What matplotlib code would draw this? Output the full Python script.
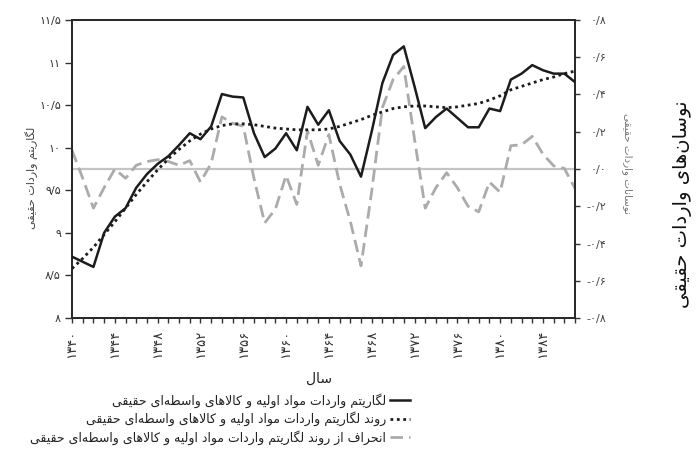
import matplotlib
matplotlib.use("Agg")
import matplotlib.pyplot as plt
from matplotlib.ticker import FixedLocator, MultipleLocator

plt.rcParams['font.family'] = ['DejaVu Sans']

# ---------------- data ----------------
years = list(range(1340, 1388))
log_imports = [8.72, 8.66, 8.60, 9.00, 9.19, 9.29, 9.53, 9.69, 9.81, 9.90,
               10.03, 10.17, 10.10, 10.25, 10.63, 10.60, 10.59, 10.17, 9.89, 9.99,
               10.17, 9.97, 10.48, 10.27, 10.44, 10.08, 9.92, 9.66, 10.19, 10.76,
               11.09, 11.19, 10.72, 10.23, 10.36, 10.46, 10.35, 10.24, 10.24, 10.46,
               10.43, 10.80, 10.87, 10.97, 10.91, 10.87, 10.87, 10.77]
trend = [8.58, 8.70, 8.83, 8.98, 9.13, 9.29, 9.45, 9.60, 9.74, 9.87,
         9.98, 10.08, 10.16, 10.22, 10.26, 10.28, 10.28, 10.27, 10.25, 10.23,
         10.22, 10.21, 10.21, 10.21, 10.22, 10.25, 10.29, 10.33, 10.38, 10.42,
         10.46, 10.48, 10.49, 10.49, 10.48, 10.47, 10.48, 10.50, 10.52, 10.56,
         10.61, 10.68, 10.72, 10.76, 10.80, 10.83, 10.87, 10.90]
deviation = [0.10, -0.05, -0.21, -0.10, 0.00, -0.05, 0.02, 0.04, 0.05, 0.04,
             0.02, 0.045, -0.07, 0.03, 0.28, 0.245, 0.23, -0.05, -0.29, -0.215,
             -0.035, -0.19, 0.205, 0.02, 0.185, -0.08, -0.28, -0.52, -0.12, 0.33,
             0.48, 0.55, 0.16, -0.21, -0.10, -0.02, -0.10, -0.20, -0.23, -0.07,
             -0.125, 0.125, 0.13, 0.175, 0.08, 0.017, 0.003, -0.105]

x_ticks = [1340, 1344, 1348, 1352, 1356, 1360, 1364, 1368, 1372, 1376, 1380, 1384]
x_tick_labels = ['۱۳۴۰', '۱۳۴۴', '۱۳۴۸', '۱۳۵۲', '۱۳۵۶', '۱۳۶۰',
                 '۱۳۶۴', '۱۳۶۸', '۱۳۷۲', '۱۳۷۶', '۱۳۸۰', '۱۳۸۴']
left_ticks = [8.0, 8.5, 9.0, 9.5, 10.0, 10.5, 11.0, 11.5]
left_tick_labels = ['۸', '۸/۵', '۹', '۹/۵', '۱۰', '۱۰/۵', '۱۱', '۱۱/۵']
right_ticks = [-0.8, -0.6, -0.4, -0.2, 0.0, 0.2, 0.4, 0.6, 0.8]
right_tick_labels = ['-۰/۸', '-۰/۶', '-۰/۴', '-۰/۲', '۰/۰', '۰/۲', '۰/۴', '۰/۶', '۰/۸']

label_log = 'لگاریتم واردات مواد اولیه و کالاهای واسطه‌ای حقیقی'
label_trend = 'روند لگاریتم واردات مواد اولیه و کالاهای واسطه‌ای حقیقی'
label_dev = 'انحراف از روند لگاریتم واردات مواد اولیه و کالاهای واسطه‌ای حقیقی'
x_title = 'سال'
left_title = 'لگاریتم واردات حقیقی'
right_title = 'نوسانات واردات حقیقی'
side_title = 'نوسان‌های واردات حقیقی'

# ------------- Persian shaping (matplotlib has no complex text layout) -------------
FORMS = {
    '\u0627': ('\uFE8D', '\uFE8E', None, None),
    '\u0622': ('\uFE81', '\uFE82', None, None),
    '\u0628': ('\uFE8F', '\uFE90', '\uFE91', '\uFE92'),
    '\u067E': ('\uFB56', '\uFB57', '\uFB58', '\uFB59'),
    '\u062A': ('\uFE95', '\uFE96', '\uFE97', '\uFE98'),
    '\u062B': ('\uFE99', '\uFE9A', '\uFE9B', '\uFE9C'),
    '\u062C': ('\uFE9D', '\uFE9E', '\uFE9F', '\uFEA0'),
    '\u0686': ('\uFB7A', '\uFB7B', '\uFB7C', '\uFB7D'),
    '\u062D': ('\uFEA1', '\uFEA2', '\uFEA3', '\uFEA4'),
    '\u062E': ('\uFEA5', '\uFEA6', '\uFEA7', '\uFEA8'),
    '\u062F': ('\uFEA9', '\uFEAA', None, None),
    '\u0630': ('\uFEAB', '\uFEAC', None, None),
    '\u0631': ('\uFEAD', '\uFEAE', None, None),
    '\u0632': ('\uFEAF', '\uFEB0', None, None),
    '\u0698': ('\uFB8A', '\uFB8B', None, None),
    '\u0633': ('\uFEB1', '\uFEB2', '\uFEB3', '\uFEB4'),
    '\u0634': ('\uFEB5', '\uFEB6', '\uFEB7', '\uFEB8'),
    '\u0635': ('\uFEB9', '\uFEBA', '\uFEBB', '\uFEBC'),
    '\u0636': ('\uFEBD', '\uFEBE', '\uFEBF', '\uFEC0'),
    '\u0637': ('\uFEC1', '\uFEC2', '\uFEC3', '\uFEC4'),
    '\u0638': ('\uFEC5', '\uFEC6', '\uFEC7', '\uFEC8'),
    '\u0639': ('\uFEC9', '\uFECA', '\uFECB', '\uFECC'),
    '\u063A': ('\uFECD', '\uFECE', '\uFECF', '\uFED0'),
    '\u0641': ('\uFED1', '\uFED2', '\uFED3', '\uFED4'),
    '\u0642': ('\uFED5', '\uFED6', '\uFED7', '\uFED8'),
    '\u06A9': ('\uFB8E', '\uFB8F', '\uFB90', '\uFB91'),
    '\u06AF': ('\uFB92', '\uFB93', '\uFB94', '\uFB95'),
    '\u0644': ('\uFEDD', '\uFEDE', '\uFEDF', '\uFEE0'),
    '\u0645': ('\uFEE1', '\uFEE2', '\uFEE3', '\uFEE4'),
    '\u0646': ('\uFEE5', '\uFEE6', '\uFEE7', '\uFEE8'),
    '\u0647': ('\uFEE9', '\uFEEA', '\uFEEB', '\uFEEC'),
    '\u0648': ('\uFEED', '\uFEEE', None, None),
    '\u06CC': ('\uFBFC', '\uFBFD', '\uFBFE', '\uFBFF'),
    '\u0626': ('\uFE89', '\uFE8A', '\uFE8B', '\uFE8C'),
}
LAM_ALEF = {'\u0627': ('\uFEFB', '\uFEFC'), '\u0622': ('\uFEF5', '\uFEF6')}


def fa(text):
    chars = list(text)
    n = len(chars)
    out = []

    def dual(c):
        return c in FORMS and FORMS[c][2] is not None

    i = 0
    while i < n:
        c = chars[i]
        if c not in FORMS:
            if c != '\u200c':
                out.append(c)
            i += 1
            continue
        jp = i > 0 and dual(chars[i - 1])
        if c == '\u0644' and i + 1 < n and chars[i + 1] in LAM_ALEF:
            iso, fin = LAM_ALEF[chars[i + 1]]
            out.append(fin if jp else iso)
            i += 2
            continue
        jn = dual(c) and i + 1 < n and chars[i + 1] in FORMS
        iso, fin, ini, med = FORMS[c]
        out.append(med if (jp and jn) else fin if jp else ini if jn else iso)
        i += 1
    return ''.join(reversed(out))


# ---------------- figure ----------------
fig = plt.figure(figsize=(7.0, 4.68), dpi=100)
ax = fig.add_axes([0.1029, 0.3205, 0.7186, 0.6368])
ax2 = ax.twinx()
ax.set_zorder(ax2.get_zorder() + 1)
ax.patch.set_visible(False)

ax2.axhline(0, color='#c4c4c4', lw=1.6, zorder=1)
l3, = ax2.plot(years, deviation, color='#ababab', lw=2.0, dashes=(4.5, 2.2),
               zorder=2)
l1, = ax.plot(years, log_imports, color='#1c1c1c', lw=1.8, zorder=3)
l2, = ax.plot(years, trend, color='#1c1c1c', lw=2.0, dashes=(1.0, 1.3), zorder=3)

ax.set_xlim(1340, 1387)
ax.set_ylim(8.0, 11.5)
ax2.set_ylim(-0.8, 0.8)

ax.xaxis.set_major_locator(FixedLocator(x_ticks))
ax.set_xticklabels(x_tick_labels, rotation=90)
ax.xaxis.set_minor_locator(MultipleLocator(1))
ax.set_yticks(left_ticks)
ax.set_yticklabels(left_tick_labels)
ax2.set_yticks(right_ticks)
ax2.set_yticklabels(right_tick_labels)
for lbl in ax2.get_yticklabels():
    lbl.set_horizontalalignment('right')

tc = '#333333'
ax.tick_params(axis='x', which='both', direction='out', length=3.6, width=1,
               color=tc, labelsize=9.5, labelcolor=tc, pad=5)
ax.tick_params(axis='y', direction='out', length=5, width=1, color=tc,
               labelsize=8, labelcolor=tc, pad=3)
ax2.tick_params(axis='y', direction='out', length=3.6, width=1, color=tc,
                labelsize=8, labelcolor='#444444', pad=19)

for a in (ax, ax2):
    for s in a.spines.values():
        s.set_color('#2a2a2a')
        s.set_linewidth(1.4)

ax.set_xlabel(fa(x_title), fontsize=10, color='#222222')
ax.xaxis.set_label_coords(0.49, -0.182)
ax.set_ylabel(fa(left_title), fontsize=8, color='#444444')
ax.yaxis.set_label_coords(-0.068, 0.47)
ax2.set_ylabel(fa(right_title), fontsize=7.5, color='#777777', rotation=270,
               va='bottom')
ax2.yaxis.set_label_coords(1.094, 0.52)

fig.text(683 / 700, 1 - 204 / 468, fa(side_title), rotation=90, fontsize=14,
         ha='center', va='center', color='#111111')

ax.legend([l1, l2, l3], [fa(label_log), fa(label_trend), fa(label_dev)],
          markerfirst=False, frameon=False, loc='upper right',
          bbox_to_anchor=(410 / 700, 1 - 393 / 468),
          bbox_transform=fig.transFigure, fontsize=9, handlelength=1.6,
          handletextpad=0.3, labelspacing=0.3, borderpad=0, borderaxespad=0,
          labelcolor='#222222')

fig.savefig('out.png', dpi=100)
